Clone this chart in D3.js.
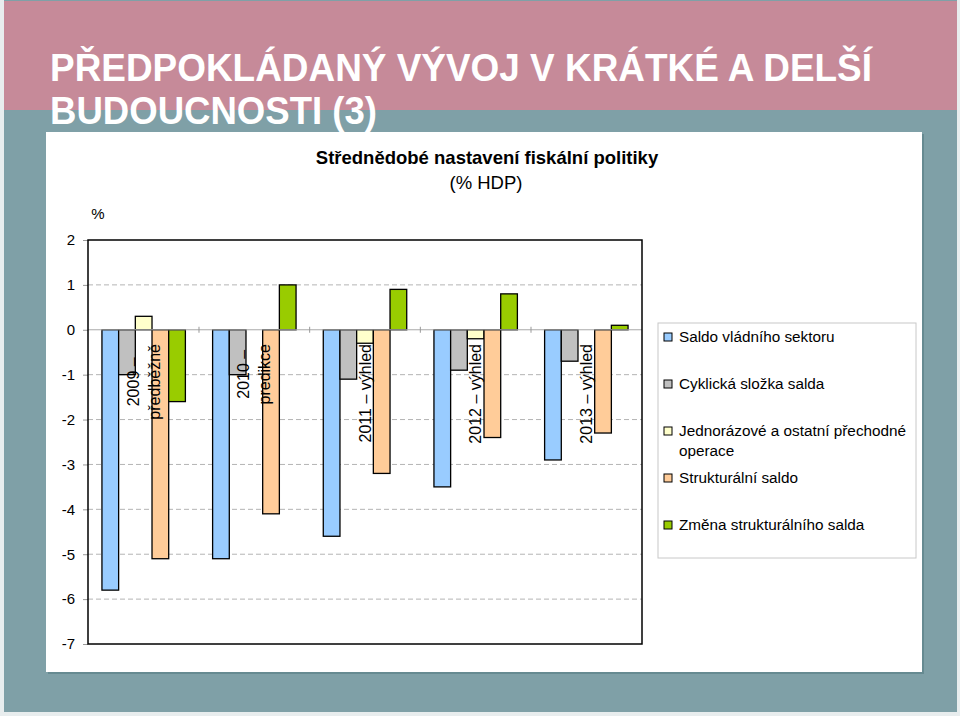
<!DOCTYPE html>
<html><head><meta charset="utf-8">
<script src="https://cdn.jsdelivr.net/npm/d3@7"></script>
<style>
html,body{margin:0;padding:0;background:#e8edee;}
svg{display:block;}
text{font-family:"Liberation Sans", Arial, sans-serif;}
</style></head>
<body>
<svg id="c" width="960" height="716"></svg>
<script>
const categories = [["2009 –","předběžně"],["2010 –","predikce"],["2011 – výhled"],["2012 – výhled"],["2013 – výhled"]];
const seriesNames = ["Saldo vládního sektoru","Cyklická složka salda","Jednorázové a ostatní přechodné operace","Strukturální saldo","Změna strukturálního salda"];
const seriesColors = ["#99ccff","#c0c0c0","#ffffcc","#ffcc99","#99cc00"];
const saldo      = [-5.8, -5.1, -4.6, -3.5, -2.9];
const cyklicka   = [-1.0, -1.0, -1.1, -0.9, -0.7];
const jednorazove= [ 0.3,  0.0, -0.3, -0.2,  0.0];
const strukturalni=[-5.1, -4.1, -3.2, -2.4, -2.3];
const zmena      = [-1.6,  1.0,  0.9,  0.8,  0.1];
const seriesValues = [saldo, cyklicka, jednorazove, strukturalni, zmena];
const yTicks = [2,1,0,-1,-2,-3,-4,-5,-6,-7];
const titleLines = ["PŘEDPOKLÁDANÝ VÝVOJ V KRÁTKÉ A DELŠÍ","BUDOUCNOSTI (3)"];
const chartTitle = "Střednědobé nastavení fiskální politiky";
const chartSubtitle = "(% HDP)";
const unitLabel = "%";

const svg = d3.select("#c");
// background
svg.append("rect").attr("x",4).attr("y",0).attr("width",953).attr("height",712).attr("fill","#7fa0a7");
svg.append("rect").attr("x",4).attr("y",1).attr("width",953).attr("height",109).attr("fill","#c68a99");
// panel shadow + panel
svg.append("rect").attr("x",48).attr("y",134).attr("width",876).attr("height",540).attr("fill","#668a91");
svg.append("rect").attr("x",46).attr("y",132).attr("width",876).attr("height",540).attr("fill","#ffffff");

// big title
const tl = [{t:titleLines[0], y:81, w:822},{t:titleLines[1], y:124, w:327}];
svg.selectAll("text.ttl").data(tl).join("text").attr("class","ttl")
  .attr("x",50).attr("y",d=>d.y).text(d=>d.t)
  .attr("fill","#ffffff")
  .style("font-family","'Liberation Sans',Arial,sans-serif")
  .style("font-weight","bold")
  .style("font-size","38px")
  .attr("textLength",d=>d.w).attr("lengthAdjust","spacingAndGlyphs");

// chart titles
svg.append("text").attr("x",487).attr("y",164).attr("text-anchor","middle")
  .style("font-size","18.5px").style("font-weight","bold").attr("fill","#000").text(chartTitle);
svg.append("text").attr("x",486).attr("y",189).attr("text-anchor","middle")
  .style("font-size","18.5px").attr("fill","#000").text(chartSubtitle);
svg.append("text").attr("x",98).attr("y",219).attr("text-anchor","middle")
  .style("font-size","15px").attr("fill","#000").text(unitLabel);

// scales
const L=88, R=642, T=240, B=644;
const y = d3.scaleLinear().domain([-7,2]).range([B,T]);
const x0 = d3.scaleBand().domain(d3.range(categories.length)).range([L,R]).paddingInner(0.246).paddingOuter(0.126);
const x1 = d3.scaleBand().domain(d3.range(seriesNames.length)).range([0,x0.bandwidth()]).padding(0);

// gridlines
svg.append("g").selectAll("line").data(yTicks.filter(v=>v!==2 && v!==-7 && v!==0)).join("line")
  .attr("x1",L).attr("x2",R).attr("y1",d=>y(d)).attr("y2",d=>y(d))
  .attr("stroke","#b4b4b4").attr("stroke-width",1).attr("stroke-dasharray","5,3");

// y axis
const yAxis = d3.axisLeft(y).tickValues(yTicks).tickSize(5).tickPadding(8).tickFormat(d3.format("d"));
const ya = svg.append("g").attr("transform",`translate(${L},0)`).call(yAxis);
ya.select(".domain").remove();
ya.selectAll(".tick line").attr("stroke","#999");
ya.selectAll(".tick text").style("font-size","15px").style("font-family","'Liberation Sans',Arial,sans-serif").attr("fill","#000")
  .text(d=> d<0 ? "-"+Math.abs(d) : d);

// bars
const g = svg.append("g");
categories.forEach((c,ci)=>{
  seriesValues.forEach((vals,si)=>{
    const v = vals[ci];
    if (v===0) return;
    g.append("rect")
      .attr("x", x0(ci)+x1(si)).attr("width", x1.bandwidth())
      .attr("y", y(Math.max(0,v))).attr("height", Math.abs(y(v)-y(0)))
      .attr("fill", seriesColors[si]).attr("stroke","#000").attr("stroke-width",1.3);
  });
});

// zero axis
svg.append("line").attr("x1",L).attr("x2",R).attr("y1",y(0)).attr("y2",y(0)).attr("stroke","#a8a8a8").attr("stroke-width",1);
const bounds = d3.range(1,categories.length).map(i=>x0(i)-x0.step()*x0.paddingInner()/2);
svg.append("g").selectAll("line").data(bounds).join("line")
  .attr("x1",d=>d).attr("x2",d=>d).attr("y1",y(0)-3).attr("y2",y(0)+3).attr("stroke","#999");

// plot border
svg.append("rect").attr("x",L).attr("y",T).attr("width",R-L).attr("height",B-T)
  .attr("fill","none").attr("stroke","#000").attr("stroke-width",1.5);

// category labels
categories.forEach((lines,ci)=>{
  const cx = x0(ci)+x0.bandwidth()/2;
  const grp = svg.append("g");
  const texts = lines.map((t,li)=> grp.append("text").text(t).style("font-size","16px").attr("fill","#000")
     .attr("text-anchor","middle").attr("dominant-baseline","central"));
  const maxLen = d3.max(texts, t=>t.node().getComputedTextLength());
  const cy = 344 + maxLen/2;
  const n = lines.length;
  texts.forEach((t,li)=>{
    const lx = cx + (li-(n-1)/2)*21;
    t.attr("transform",`translate(${lx},${cy}) rotate(-90)`);
  });
});

// legend
svg.append("rect").attr("x",658).attr("y",323).attr("width",258).attr("height",235)
  .attr("fill","#fff").attr("stroke","#c8c8c8").attr("stroke-width",1);
const legY = [337,384,431,478,525];
seriesNames.forEach((name,i)=>{
  svg.append("rect").attr("x",664).attr("y",legY[i]-4).attr("width",8).attr("height",8)
    .attr("fill",seriesColors[i]).attr("stroke","#000").attr("stroke-width",1);
  const t = svg.append("text").attr("x",679).attr("y",legY[i]+5).style("font-size","15.3px").attr("fill","#000");
  if (i===2) {
    t.append("tspan").attr("x",679).text("Jednorázové a ostatní přechodné");
    t.append("tspan").attr("x",679).attr("dy",20).text("operace");
  } else t.text(name);
});
</script>
</body></html>
